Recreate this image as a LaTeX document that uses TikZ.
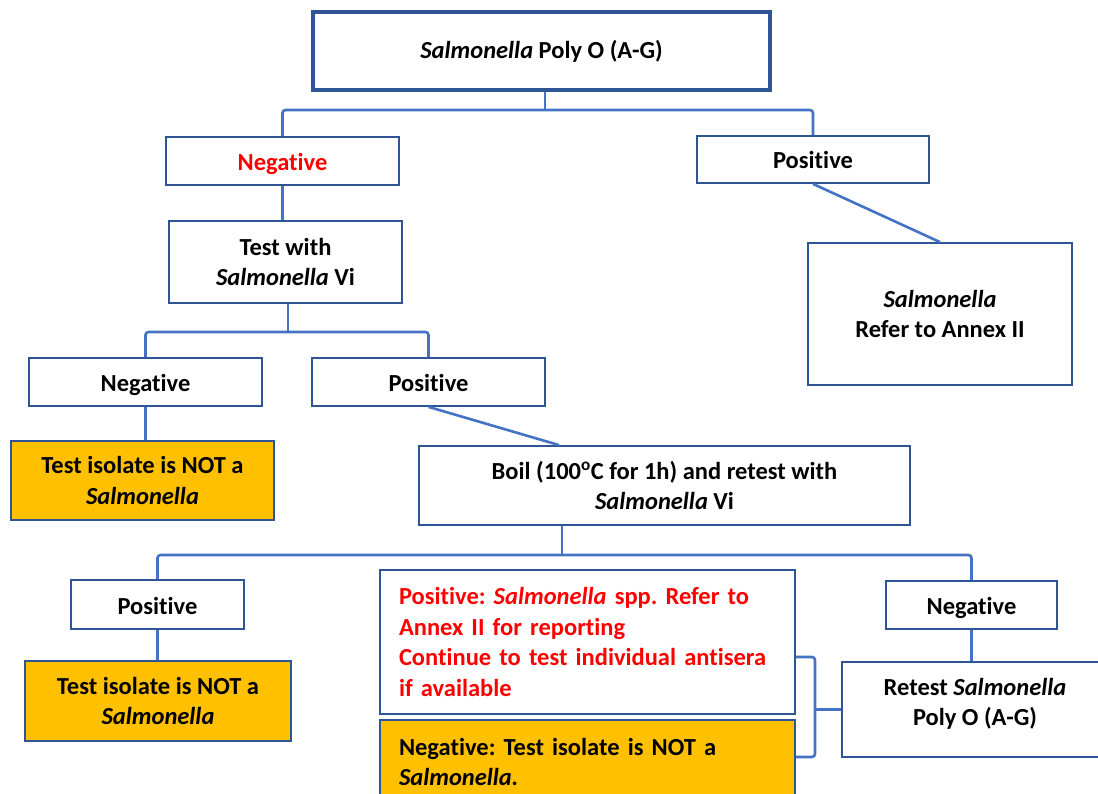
\documentclass[tikz,border=0pt]{standalone}
\usepackage{fontspec}
\setmainfont{Carlito}[Ligatures={NoCommon}]
\usetikzlibrary{calc}
\definecolor{boxblue}{HTML}{2F5597}
\definecolor{connblue}{HTML}{4472C4}
\definecolor{orangefill}{HTML}{FFC000}
\definecolor{redtext}{HTML}{FF0000}
\tikzset{
  box/.style={draw=boxblue, line width=1.8pt, fill=white, inner sep=0pt, align=center,
    font=\fontsize{24.5}{30.5}\selectfont\bfseries\frenchspacing},
  one/.style={box, text height=24pt, text depth=5pt},
  obox/.style={box, fill=orangefill},
  txt/.style={inner sep=0pt, align=center, font=\fontsize{24.5}{30.5}\selectfont\bfseries\frenchspacing},
  conn/.style={draw=connblue, line width=2.6pt, rounded corners=3pt},
}
\begin{document}
\begin{tikzpicture}[x=1pt,y=-1pt]
\useasboundingbox (0,0) rectangle (1098,794);
% boxes
\node[box, line width=4.5pt, minimum width=457pt, minimum height=78pt] (top) at (541.5,51) {\textit{Salmonella} Poly O (A-G)};
\node[one, text=redtext, minimum width=233pt, minimum height=48pt] (neg1) at (282.5,161) {Negative};
\node[one, minimum width=232pt, minimum height=47pt] (pos1) at (813,159.5) {Positive};
\node[box, minimum width=233pt, minimum height=82pt] (testvi) at (285.5,262) {Test with\\\textit{Salmonella} Vi};
\node[box, minimum width=264pt, minimum height=142pt] (annex) at (940,314) {\textit{Salmonella}\\Refer to Annex II};
\node[one, minimum width=233pt, minimum height=48pt] (neg2) at (145.5,382) {Negative};
\node[one, minimum width=233pt, minimum height=48pt] (pos2) at (428.5,382) {Positive};
\node[obox, minimum width=263pt, minimum height=79pt] (iso1) at (142.5,480.5) {Test isolate is NOT a\\\textit{Salmonella}};
\node[box, minimum width=491pt, minimum height=79pt] (boil) at (664.5,485.5) {Boil (100\textsuperscript{o}C for 1h) and retest with\\\textit{Salmonella} Vi};
\node[one, minimum width=173pt, minimum height=49pt] (pos3) at (157.5,604.5) {Positive};
\node[obox, minimum width=266pt, minimum height=80pt] (iso2) at (158,701) {Test isolate is NOT a\\\textit{Salmonella}};
\node[box, text=redtext, align=left, text width=377pt, inner xsep=19pt, minimum width=415pt, minimum height=144pt] (red) at (587.5,642) {Positive: \textit{Salmonella} spp. Refer to\\Annex II for reporting\\Continue to test individual antisera\\if available};
\node[obox, align=left, text width=377pt, inner xsep=19pt, minimum width=415pt, minimum height=84pt] (oneg) at (587.5,762) {Negative: Test isolate is NOT a\\\textit{Salmonella.}};
\node[one, minimum width=171pt, minimum height=48pt] (neg3) at (971.5,605) {Negative};
\node[box, minimum width=258pt, minimum height=95pt] (retest) at (971,709.5) {};
\node[txt] (retesttext) at (975,704) {Retest \textit{Salmonella}\\Poly O (A-G)};
% connectors
\coordinate (b1) at (545,110);
\draw[conn] (b1 |- top.south) -- (b1);
\draw[conn] (neg1.north) |- (b1) -| (pos1.north);
\draw[conn] (neg1.south) -- (neg1.south |- testvi.north);
\draw[conn] (pos1.south) -- (annex.north);
\coordinate (b2) at (288,332);
\draw[conn] (b2 |- testvi.south) -- (b2);
\draw[conn] (neg2.north) |- (b2) -| (pos2.north);
\draw[conn] (neg2.south) -- (neg2.south |- iso1.north);
\draw[conn] (pos2.south) -- ($(boil.north west)+(141,0)$);
\coordinate (b3) at (562,555);
\draw[conn] (b3 |- boil.south) -- (b3);
\draw[conn] (pos3.north) |- (b3) -| (neg3.north);
\draw[conn] (pos3.south) -- (pos3.south |- iso2.north);
\draw[conn] (neg3.south) -- (neg3.south |- retest.north);
\coordinate (br1) at (815,657);
\coordinate (br2) at (815,757);
\draw[conn] (red.east |- br1) -- (br1) -- (br2) -- (red.east |- br2);
\draw[conn] (br1 |- retest.west) -- (retest.west);
\end{tikzpicture}
\end{document}
